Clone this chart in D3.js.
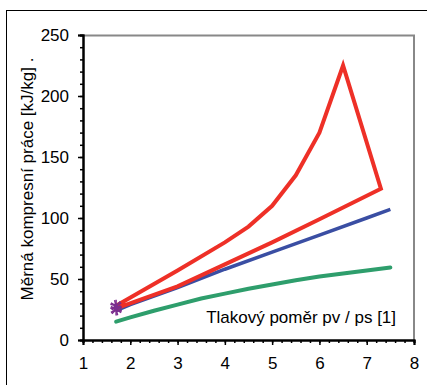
<!DOCTYPE html>
<html>
<head>
<meta charset="utf-8">
<script src="https://cdn.jsdelivr.net/npm/d3@7"></script>
<style>
  body { margin: 0; background: #fff; }
  #myPlot { width: 427px; height: 385px; }
  text { font-family: "Liberation Sans", Arial, sans-serif; fill: #000; }
</style>
</head>
<body>
<div id="myPlot"></div>
<script>
const xLabel = "Tlakový poměr pv / ps [1]"
const yLabel = "Měrná kompresní práce [kJ/kg] ."
const xTicks = [1, 2, 3, 4, 5, 6, 7, 8]
const yTicks = [0, 50, 100, 150, 200, 250]

// green curve
const greenX = [1.7, 2, 2.5, 3, 3.5, 4, 4.5, 5, 5.5, 6, 6.5, 7, 7.5]
const greenY = [15, 18.5, 24, 29, 34, 38, 42, 45.5, 49, 52, 54.5, 57, 59.5]
// blue curve
const blueX = [1.7, 2, 3, 4, 5, 6, 7, 7.5]
const blueY = [24, 29, 43, 58, 72, 86, 100, 107]
// red closed loop
const redX = [1.7, 3, 4, 5, 6, 7.3, 6.5, 6.0, 5.5, 5.0, 4.5, 4.0, 3.0, 1.7]
const redY = [26, 44, 62, 80, 99, 124, 225, 170, 135, 110, 93, 80, 57, 28]
// start markers
const starX = [1.7, 1.7]
const starY = [28, 25]

const root = d3.select("#myPlot")
const clientWidth = 427
const clientHeight = 385
const margin = {top: 35, right: 13, bottom: 45, left: 83}
const width = clientWidth - margin.left - margin.right
const height = clientHeight - margin.top - margin.bottom

const svg = root.append("svg")
    .attr("width", clientWidth)
    .attr("height", clientHeight)

// outer frame
svg.append("rect")
    .attr("x", 6.5).attr("y", 10.5)
    .attr("width", 425).attr("height", 385)
    .attr("fill", "none")
    .attr("stroke", "#000")
    .attr("stroke-width", 1)

const g = svg.append("g")
    .attr("transform", `translate(${margin.left}, ${margin.top})`)

const xScale = d3.scaleLinear().domain([1, 8]).range([0, width])
const yScale = d3.scaleLinear().domain([0, 250]).range([height, 0])

// plot frame (top/right gray)
g.append("path")
    .attr("d", `M0,0.5H${width}V${height}`)
    .attr("fill", "none")
    .attr("stroke", "#888")
    .attr("stroke-width", 2)

// minor ticks
const xMinor = d3.range(1, 8.001, 0.2)
const yMinor = d3.range(0, 250.001, 10)

const xAxisMinor = d3.axisBottom(xScale).tickValues(xMinor).tickSize(3).tickFormat("")
const yAxisMinor = d3.axisLeft(yScale).tickValues(yMinor).tickSize(3).tickFormat("")
const xAxis = d3.axisBottom(xScale).tickValues(xTicks).tickSize(5).tickPadding(12).tickFormat(d3.format("d"))
const yAxis = d3.axisLeft(yScale).tickValues(yTicks).tickSize(5).tickPadding(9).tickFormat(d3.format("d"))

g.append("g").attr("transform", `translate(0, ${height})`).call(xAxisMinor)
g.append("g").call(yAxisMinor)
const gx = g.append("g").attr("transform", `translate(0, ${height})`).call(xAxis)
const gy = g.append("g").call(yAxis)

g.selectAll(".domain").attr("stroke", "#000").attr("stroke-width", 2)
g.selectAll(".tick line").attr("stroke", "#000").attr("stroke-width", 1.5)
gx.selectAll("text").attr("font-size", 17).style("font-family", "Liberation Sans, Arial, sans-serif")
gy.selectAll("text").attr("font-size", 17).style("font-family", "Liberation Sans, Arial, sans-serif")

const line = d3.line()
    .x(d => xScale(d[0]))
    .y(d => yScale(d[1]))

const zip = (xs, ys) => xs.map((x, i) => [x, ys[i]])

g.append("path")
    .datum(zip(greenX, greenY))
    .attr("d", line)
    .attr("fill", "none")
    .attr("stroke", "#2e9e6c")
    .attr("stroke-width", 4)
    .attr("stroke-linecap", "round")

g.append("path")
    .datum(zip(blueX, blueY))
    .attr("d", line)
    .attr("fill", "none")
    .attr("stroke", "#3a4ea3")
    .attr("stroke-width", 3.5)

g.append("path")
    .datum(zip(redX, redY))
    .attr("d", line)
    .attr("fill", "none")
    .attr("stroke", "#ee3027")
    .attr("stroke-width", 4)
    .attr("stroke-linejoin", "miter")

// asterisk markers
const star = d3.symbol().type(d3.symbolAsterisk).size(100)
for (const angle of [0, 45]) {
    g.selectAll(".star" + angle)
        .data(zip(starX, starY))
        .enter().append("path")
        .attr("class", "star" + angle)
        .attr("transform", d => `translate(${xScale(d[0])}, ${yScale(d[1])}) rotate(${angle})`)
        .attr("d", star)
        .attr("fill", "none")
        .attr("stroke", "#7b2d8e")
        .attr("stroke-width", 1.5)
}

// labels
g.append("text")
    .attr("x", xScale(7.62))
    .attr("y", yScale(0) - 17)
    .attr("text-anchor", "end")
    .attr("font-size", 17)
    .text(xLabel)

svg.append("text")
    .attr("transform", `translate(33, 179) rotate(-90)`)
    .attr("text-anchor", "middle")
    .attr("font-size", 17)
    .text(yLabel)
</script>
</body>
</html>
